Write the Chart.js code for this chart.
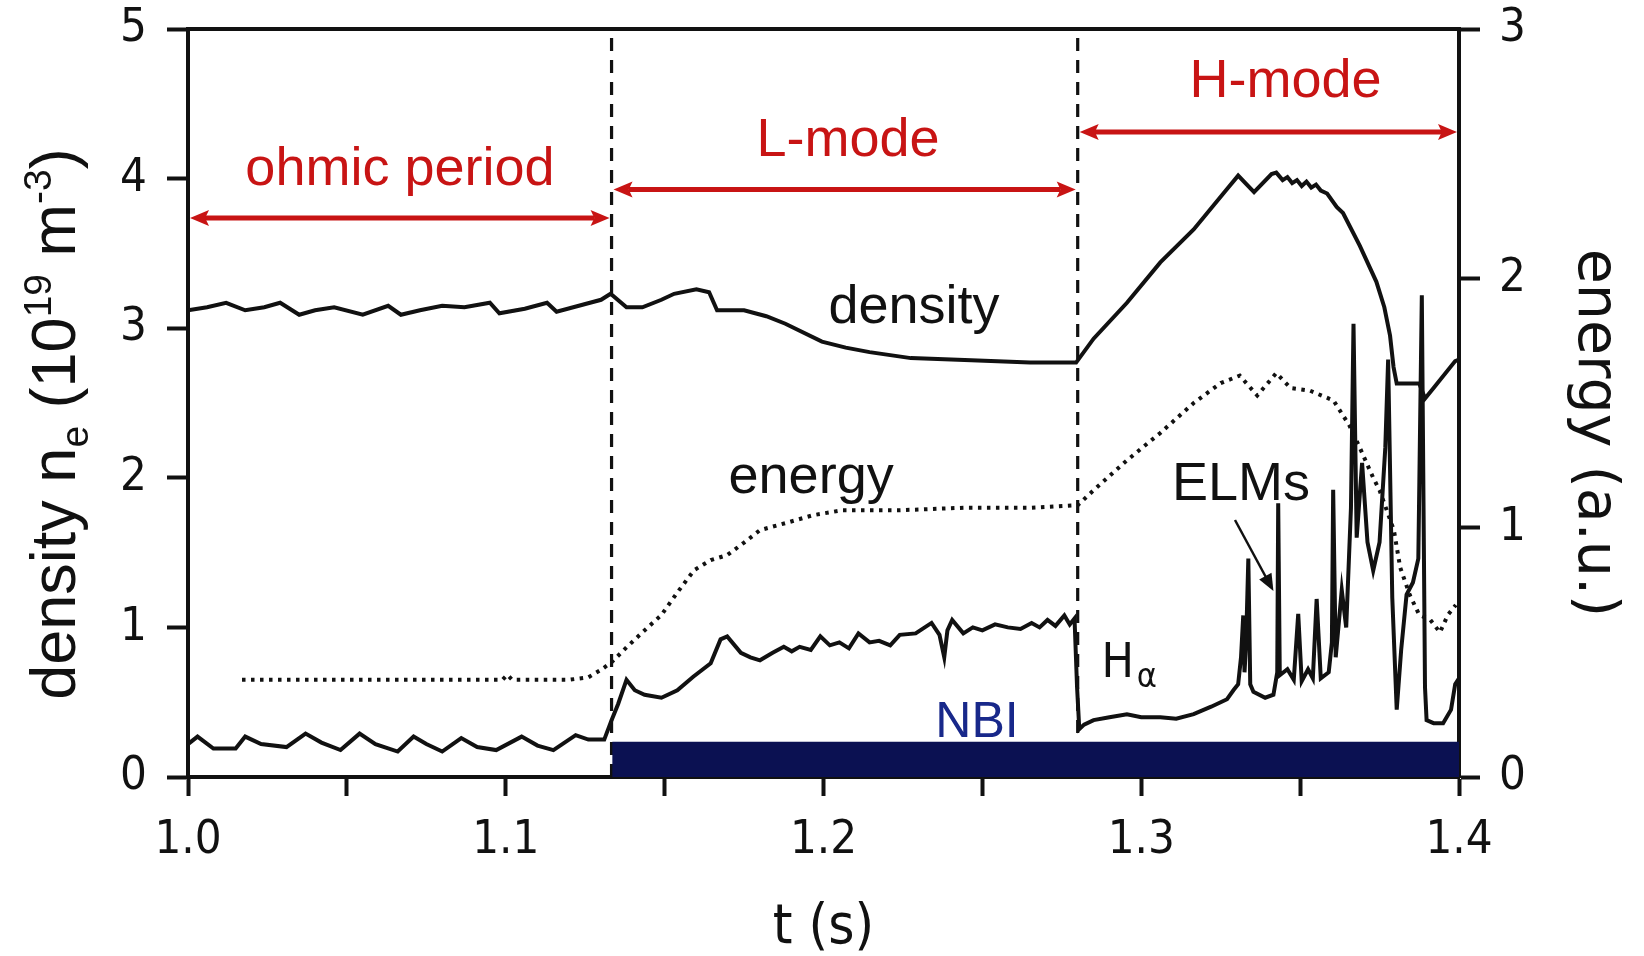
<!DOCTYPE html>
<html>
<head>
<meta charset="utf-8">
<title>Density, energy and H-alpha through ohmic, L-mode and H-mode</title>
<script src="https://cdn.jsdelivr.net/npm/chart.js@4.4.1/dist/chart.umd.min.js"></script>
<style>
  html, body { margin: 0; padding: 0; background: #fff; }
  #wrap { width: 1644px; height: 956px; position: relative; }
</style>
</head>
<body>
<div id="wrap"><canvas id="plasmaChart"></canvas></div>
<script>
// phase boundaries (s) and names
const phaseEdges = [1.0, 1.1333, 1.28, 1.4];
const phaseNames = ['ohmic period', 'L-mode', 'H-mode'];

// NBI heating on (bar drawn on the density axis)
const nbiTime = [1.1335, 1.4];
const nbiLevel = [0.235, 0.235];

// line-averaged density (10^19 m^-3)
const densityTime = [
  1.000, 1.006, 1.012, 1.018, 1.024, 1.029, 1.035, 1.040, 1.046, 1.055,
  1.063, 1.067, 1.073, 1.080, 1.087, 1.095, 1.098, 1.106, 1.113, 1.116,
  1.123, 1.130, 1.133, 1.138, 1.143, 1.149, 1.153, 1.160, 1.164, 1.1665,
  1.175, 1.182, 1.188, 1.1995, 1.207, 1.2145, 1.2275, 1.2465, 1.265, 1.2795,
  1.285, 1.2955, 1.306, 1.3165, 1.327, 1.3305, 1.3355, 1.341, 1.3425, 1.3445,
  1.346, 1.3475, 1.349, 1.3505, 1.352, 1.3535, 1.355, 1.3565, 1.3585, 1.3615,
  1.3635, 1.3688, 1.374, 1.3765, 1.3783, 1.3794, 1.3804, 1.3875, 1.3893, 1.392,
  1.3988, 1.400
];
const densityValue = [
  3.12, 3.14, 3.17, 3.12, 3.14, 3.17, 3.09, 3.12, 3.14, 3.09,
  3.15, 3.09, 3.12, 3.15, 3.14, 3.17, 3.10, 3.13, 3.17, 3.11,
  3.15, 3.19, 3.23, 3.14, 3.14, 3.19, 3.23, 3.26, 3.24, 3.12,
  3.12, 3.08, 3.03, 2.91, 2.87, 2.84, 2.80, 2.785, 2.77, 2.77,
  2.93, 3.17, 3.44, 3.66, 3.93, 4.02, 3.91, 4.03, 4.04, 3.99,
  4.01, 3.97, 3.99, 3.95, 3.98, 3.94, 3.96, 3.92, 3.90, 3.81,
  3.77, 3.55, 3.31, 3.14, 2.95, 2.74, 2.63, 2.63, 2.53, 2.60,
  2.78, 2.79
];

// stored energy (a.u., right axis)
const energyTime = [
  1.017, 1.040, 1.060, 1.080, 1.099, 1.1005, 1.102, 1.120, 1.126, 1.130,
  1.1333, 1.138, 1.143, 1.149, 1.154, 1.1593, 1.1645, 1.1697, 1.175, 1.180,
  1.1885, 1.1967, 1.206, 1.224, 1.2445, 1.2655, 1.280, 1.285, 1.2955, 1.306,
  1.3165, 1.325, 1.331, 1.3365, 1.3425, 1.347, 1.353, 1.3605, 1.3655, 1.3688,
  1.373, 1.375, 1.3795, 1.3815, 1.3845, 1.3875, 1.391, 1.394, 1.3965, 1.399
];
const energyValue = [
  0.39, 0.39, 0.39, 0.39, 0.39, 0.41, 0.39, 0.39, 0.40, 0.43,
  0.46, 0.52, 0.58, 0.65, 0.74, 0.83, 0.87, 0.89, 0.94, 0.99,
  1.02, 1.05, 1.07, 1.07, 1.08, 1.08, 1.09, 1.15, 1.27, 1.38,
  1.50, 1.58, 1.61, 1.53, 1.62, 1.56, 1.55, 1.51, 1.41, 1.32,
  1.20, 1.15, 0.99, 0.84, 0.73, 0.65, 0.63, 0.58, 0.65, 0.69
];

// H-alpha signal (drawn on the density axis)
const haTime = [
  1.000, 1.003, 1.008, 1.015, 1.018, 1.023, 1.031, 1.037, 1.042, 1.048,
  1.054, 1.059, 1.066, 1.071, 1.075, 1.080, 1.086, 1.091, 1.097, 1.105,
  1.110, 1.115, 1.122, 1.126, 1.131, 1.1333, 1.1354, 1.138, 1.1406, 1.1437,
  1.149, 1.154, 1.159, 1.1645, 1.1676, 1.1697, 1.174, 1.177, 1.180, 1.184,
  1.1875, 1.190, 1.1925, 1.196, 1.199, 1.202, 1.205, 1.208, 1.211, 1.2145,
  1.2175, 1.221, 1.224, 1.229, 1.234, 1.2365, 1.238, 1.239, 1.2405, 1.244,
  1.247, 1.250, 1.254, 1.258, 1.262, 1.2655, 1.268, 1.2705, 1.273, 1.2758,
  1.2775, 1.279, 1.2798, 1.2805, 1.282, 1.285, 1.290, 1.2955, 1.300, 1.306,
  1.311, 1.3165, 1.322, 1.327, 1.329, 1.3305, 1.3314, 1.3321, 1.3325, 1.333,
  1.3337, 1.3343, 1.3353, 1.339, 1.3416, 1.3428, 1.3431, 1.3436, 1.346, 1.348,
  1.3494, 1.3505, 1.3525, 1.354, 1.3552, 1.3565, 1.359, 1.360, 1.3604, 1.3612,
  1.3631, 1.3645, 1.366, 1.3668, 1.3678, 1.3695, 1.3712, 1.373, 1.375, 1.3768,
  1.3777, 1.379, 1.3804, 1.3818, 1.3835, 1.3855, 1.3872, 1.3883, 1.3893, 1.3898,
  1.392, 1.395, 1.3975, 1.3988, 1.400
];
const haValue = [
  0.22, 0.27, 0.19, 0.19, 0.27, 0.22, 0.20, 0.29, 0.23, 0.18,
  0.29, 0.22, 0.17, 0.27, 0.22, 0.17, 0.26, 0.20, 0.18, 0.27,
  0.21, 0.18, 0.28, 0.25, 0.25, 0.38, 0.49, 0.65, 0.58, 0.55,
  0.53, 0.58, 0.67, 0.76, 0.92, 0.94, 0.83, 0.80, 0.78, 0.83,
  0.87, 0.84, 0.87, 0.85, 0.94, 0.88, 0.90, 0.86, 0.96, 0.90,
  0.91, 0.88, 0.95, 0.96, 1.03, 0.95, 0.80, 0.98, 1.05, 0.96,
  1.00, 0.98, 1.02, 1.00, 0.99, 1.03, 1.00, 1.05, 1.01, 1.08,
  1.02, 1.06, 0.60, 0.32, 0.35, 0.38, 0.40, 0.42, 0.40, 0.40,
  0.39, 0.42, 0.47, 0.52, 0.58, 0.62, 0.80, 1.08, 0.70, 0.90,
  1.46, 0.62, 0.57, 0.53, 0.55, 0.70, 1.83, 0.68, 0.72, 0.65,
  1.09, 0.64, 0.72, 0.66, 1.19, 0.66, 0.70, 0.90, 1.92, 0.80,
  1.25, 1.00, 1.80, 3.03, 1.60, 2.10, 1.57, 1.38, 1.57, 2.20,
  2.79, 1.20, 0.45, 0.85, 1.22, 1.30, 1.46, 3.22, 0.60, 0.38,
  0.36, 0.36, 0.45, 0.62, 0.66
];

const ink = '#111111';
const red = '#c81414';
const navy = '#0b1152';
const narrow = "'Liberation Sans Narrow', 'DejaVu Sans Condensed', sans-serif";
const arial = "'Liberation Sans', Arial, sans-serif";

function pairs(xs, ys) {
  return xs.map((t, i) => ({ x: t, y: ys[i] }));
}

function doubleArrow(ctx, x1, x2, yy, color) {
  const head = 19, half = 8;
  ctx.strokeStyle = color;
  ctx.fillStyle = color;
  ctx.lineWidth = 5;
  ctx.setLineDash([]);
  ctx.beginPath();
  ctx.moveTo(x1 + head - 4, yy);
  ctx.lineTo(x2 - head + 4, yy);
  ctx.stroke();
  [[x1, 1], [x2, -1]].forEach(([tip, dir]) => {
    ctx.beginPath();
    ctx.moveTo(tip, yy);
    ctx.lineTo(tip + dir * head, yy - half);
    ctx.lineTo(tip + dir * head * 0.8, yy);
    ctx.lineTo(tip + dir * head, yy + half);
    ctx.closePath();
    ctx.fill();
  });
}

function write(ctx, text, px, py, color, font, align) {
  ctx.fillStyle = color;
  ctx.font = font;
  ctx.textAlign = align || 'center';
  ctx.textBaseline = 'alphabetic';
  ctx.fillText(text, px, py);
}

// text made of pieces, some of them sub- or superscript
function writeRich(ctx, parts, size, family) {
  const sizes = parts.map(p => p[1] ? size * 0.62 : size);
  let total = 0;
  parts.forEach((p, i) => {
    ctx.font = sizes[i] + 'px ' + family;
    total += ctx.measureText(p[0]).width;
  });
  let pos = -total / 2;
  ctx.textAlign = 'left';
  ctx.textBaseline = 'alphabetic';
  parts.forEach((p, i) => {
    ctx.font = sizes[i] + 'px ' + family;
    let dy = 0;
    if (p[1] === 'sub') dy = size * 0.2;
    if (p[1] === 'sup') dy = -size * 0.38;
    ctx.fillText(p[0], pos, dy);
    pos += ctx.measureText(p[0]).width;
  });
}

const annotate = {
  id: 'annotate',
  beforeDatasetsDraw(chart) {
    const { ctx, chartArea, scales: { x } } = chart;
    ctx.save();
    ctx.strokeStyle = ink;
    ctx.lineWidth = 3.2;
    ctx.setLineDash([13, 9]);
    [phaseEdges[1], phaseEdges[2]].forEach(t => {
      const px = x.getPixelForValue(t);
      ctx.beginPath();
      ctx.moveTo(px, chartArea.bottom);
      ctx.lineTo(px, chartArea.top + 4);
      ctx.stroke();
    });
    ctx.restore();
  },
  afterDraw(chart) {
    const { ctx, chartArea: area, scales: { x, y } } = chart;
    const X = v => x.getPixelForValue(v);
    const Y = v => y.getPixelForValue(v);
    ctx.save();

    // top frame line
    ctx.strokeStyle = ink;
    ctx.lineWidth = 4;
    ctx.beginPath();
    ctx.moveTo(area.left - 2, area.top);
    ctx.lineTo(area.right + 2, area.top);
    ctx.stroke();

    // phase arrows with their names
    const arrowLevel = [3.737, 3.927, 4.311];
    const nameAt = [[1.0667, 3.957], [1.2077, 4.151], [1.3454, 4.545]];
    phaseNames.forEach((name, i) => {
      doubleArrow(ctx, X(phaseEdges[i]) + 2, X(phaseEdges[i + 1]) - 2, Y(arrowLevel[i]), red);
      write(ctx, name, X(nameAt[i][0]), Y(nameAt[i][1]), red, '54px ' + arial);
    });

    // curve labels
    write(ctx, 'density', X(1.2285), Y(3.035), ink, '54px ' + arial);
    write(ctx, 'energy', X(1.1961), Y(1.901), ink, '54px ' + arial);
    write(ctx, 'ELMs', X(1.3314), Y(1.853), ink, '54px ' + arial);
    write(ctx, 'NBI', X(1.2483), Y(0.269), '#18288a', '50px ' + arial);
    write(ctx, 'H', X(1.2875), Y(0.671), ink, "48px 'DejaVu Sans Condensed', sans-serif", 'left');
    write(ctx, 'α', X(1.2986), Y(0.602), ink, "34px 'DejaVu Sans Condensed', sans-serif", 'left');

    // ELMs pointer
    const ax1 = X(1.3295), ay1 = Y(1.718), ax2 = X(1.3416), ay2 = Y(1.243);
    const ang = Math.atan2(ay2 - ay1, ax2 - ax1);
    ctx.strokeStyle = ink;
    ctx.fillStyle = ink;
    ctx.lineWidth = 2.5;
    ctx.beginPath();
    ctx.moveTo(ax1, ay1);
    ctx.lineTo(ax2 - 12 * Math.cos(ang), ay2 - 12 * Math.sin(ang));
    ctx.stroke();
    ctx.beginPath();
    ctx.moveTo(ax2, ay2);
    ctx.lineTo(ax2 - 17 * Math.cos(ang) + 7 * Math.sin(ang), ay2 - 17 * Math.sin(ang) - 7 * Math.cos(ang));
    ctx.lineTo(ax2 - 17 * Math.cos(ang) - 7 * Math.sin(ang), ay2 - 17 * Math.sin(ang) + 7 * Math.cos(ang));
    ctx.closePath();
    ctx.fill();

    // axis titles
    ctx.fillStyle = ink;
    ctx.save();
    ctx.translate(75, 424);
    ctx.rotate(-Math.PI / 2);
    writeRich(ctx, [['density n', ''], ['e', 'sub'], [' (10', ''], ['19', 'sup'], [' m', ''], ['-3', 'sup'], [')', '']], 63, arial);
    ctx.restore();

    ctx.save();
    ctx.translate(1579, 433);
    ctx.rotate(Math.PI / 2);
    write(ctx, 'energy (a.u.)', 0, 0, ink, "57px 'DejaVu Sans', sans-serif");
    ctx.restore();

    ctx.restore();
  }
};

const axisGrid = {
  display: true,
  drawOnChartArea: false,
  drawTicks: true,
  tickLength: 21,
  tickWidth: 4,
  tickColor: ink
};

// small line height keeps the y labels from pushing the plot top down
const yTickFont = { family: narrow, size: 47, lineHeight: 0.2 };

document.addEventListener('DOMContentLoaded', function () {
  const ctx = document.getElementById('plasmaChart').getContext('2d');

  new Chart(ctx, {
    type: 'line',
    data: {
      datasets: [
        {
          label: 'NBI',
          data: pairs(nbiTime, nbiLevel),
          yAxisID: 'y',
          borderColor: 'transparent',
          borderWidth: 0,
          backgroundColor: navy,
          fill: 'origin',
          pointRadius: 0
        },
        {
          label: 'energy',
          data: pairs(energyTime, energyValue),
          yAxisID: 'y2',
          borderColor: ink,
          borderWidth: 4,
          borderDash: [3.5, 5.5],
          pointRadius: 0,
          fill: false
        },
        {
          label: 'H-alpha',
          data: pairs(haTime, haValue),
          yAxisID: 'y',
          borderColor: ink,
          borderWidth: 4,
          pointRadius: 0,
          fill: false
        },
        {
          label: 'density',
          data: pairs(densityTime, densityValue),
          yAxisID: 'y',
          borderColor: ink,
          borderWidth: 4,
          pointRadius: 0,
          fill: false
        }
      ]
    },
    options: {
      responsive: true,
      maintainAspectRatio: false,
      animation: false,
      layout: { padding: { top: 29, left: 0, right: 0, bottom: 0 } },
      elements: { line: { tension: 0 } },
      plugins: {
        legend: { display: false },
        tooltip: { enabled: false }
      },
      scales: {
        x: {
          type: 'linear',
          min: 1.0,
          max: 1.4,
          afterFit: scale => { scale.height = 179; },
          border: { color: ink, width: 4 },
          grid: Object.assign({}, axisGrid, { tickLength: 19 }),
          ticks: {
            stepSize: 0.05,
            autoSkip: false,
            maxRotation: 0,
            padding: 17,
            color: ink,
            font: { family: narrow, size: 47 },
            callback: v => Math.abs(v * 10 - Math.round(v * 10)) < 1e-6 ? v.toFixed(1) : ''
          },
          title: {
            display: true,
            text: 't (s)',
            color: ink,
            font: { family: narrow, size: 56, lineHeight: 1.0 },
            padding: 0
          }
        },
        y: {
          position: 'left',
          min: 0,
          max: 5,
          afterFit: scale => { scale.width = 188; },
          border: { color: ink, width: 4 },
          grid: axisGrid,
          ticks: {
            stepSize: 1,
            padding: 20,
            color: ink,
            font: yTickFont
          }
        },
        y2: {
          position: 'right',
          min: 0,
          max: 3,
          afterFit: scale => { scale.width = 185; },
          border: { color: ink, width: 4 },
          grid: axisGrid,
          ticks: {
            stepSize: 1,
            padding: 19,
            color: ink,
            font: yTickFont
          }
        }
      }
    },
    plugins: [annotate]
  });
});
</script>
</body>
</html>
